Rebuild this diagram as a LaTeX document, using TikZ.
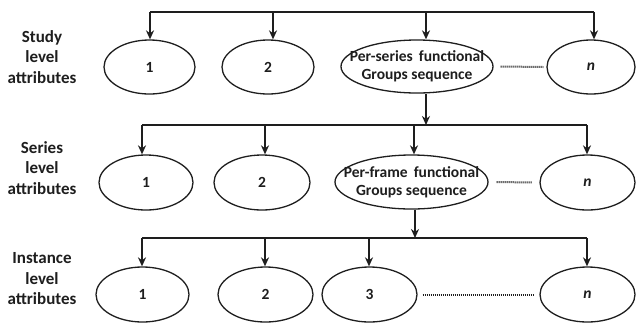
\documentclass[tikz,border=0pt]{standalone}
\usepackage{fontspec}
\setmainfont{Carlito}
\usetikzlibrary{shapes.geometric,arrows.meta}
\definecolor{ink}{HTML}{1E1E1E}
\begin{document}
\begin{tikzpicture}[x=1pt,y=-1pt,
  oval/.style={draw=ink,line width=1.3pt,ellipse,inner sep=0pt},
  ovaltxt/.style={text=ink,font=\bfseries\fontsize{15.5}{18}\selectfont,align=center,inner sep=0pt},
  side/.style={text=ink,font=\bfseries\fontsize{17}{20.5}\selectfont,align=center,inner sep=0pt},
  bar/.style={draw=ink,line width=2pt},
  drop/.style={draw=ink,line width=2pt,-{Stealth[length=9pt,width=8pt]}},
  dots/.style={draw=ink,line width=2pt,dash pattern=on 1pt off 1pt}]
\useasboundingbox[fill=white] (0,0) rectangle (637,325);

% side labels
\node[side] (l1) at (42,57) {Study\\level\\attributes};
\node[side] (l2) at (42,168) {Series\\level\\attributes};
\node[side] (l3) at (42,279) {Instance\\level\\attributes};

% row 1
\node[oval,minimum width=91,minimum height=54] (e11) at (149.5,67) {};
\node[oval,minimum width=92,minimum height=54] (e12) at (268,67) {};
\node[oval,minimum width=152,minimum height=53] (e13) at (417,66.5) {};
\node[oval,minimum width=88,minimum height=54] (e14) at (591,67) {};
\node[ovaltxt] (t11) at (e11) {1};
\node[ovaltxt] (t12) at (e12) {2};
\node[ovaltxt] (t13) at (e13) {Per-series\hspace{0.4em}functional\\Groups sequence};
\node[ovaltxt] (t14) at (e14) {\itshape n};

\coordinate (b11) at (150,12);
\coordinate (b12) at (273,12);
\coordinate (b13) at (426,12);
\coordinate (b14) at (594,12);
\draw[bar] (b11) -- (b14);
\draw[drop] (b11) -- (b11 |- e11.north);
\draw[drop] (b12) -- (b12 |- e12.north);
\draw[drop] (b13) -- (b13 |- e13.north);
\draw[drop] (b14) -- (b14 |- e14.north);
\draw[dots] ([xshift=7pt]e13.east) -- ([xshift=-3pt]e14.west);

% row 2
\node[oval,minimum width=94,minimum height=55] (e21) at (146,182.5) {};
\node[oval,minimum width=96,minimum height=55] (e22) at (262,182.5) {};
\node[oval,minimum width=153,minimum height=54] (e23) at (411.5,182) {};
\node[oval,minimum width=95,minimum height=55] (e24) at (587.5,182.5) {};
\node[ovaltxt] (t21) at (e21) {1};
\node[ovaltxt] (t22) at (e22) {2};
\node[ovaltxt] (t23) at (e23) {Per-frame\hspace{0.4em}functional\\Groups sequence};
\node[ovaltxt] (t24) at (e24) {\itshape n};

\coordinate (b21) at (142,125);
\coordinate (b22) at (265,125);
\coordinate (b23) at (414,125);
\coordinate (b24) at (587,125);
\coordinate (j1) at (426,125);
\draw[drop] (b13 |- e13.south) -- (j1);
\draw[bar] (b21) -- (b24);
\draw[drop] (b21) -- (b21 |- e21.north);
\draw[drop] (b22) -- (b22 |- e22.north);
\draw[drop] (b23) -- (b23 |- e23.north);
\draw[drop] (b24) -- (b24 |- e24.north);
\draw[dots] ([xshift=8pt]e23.east) -- ([xshift=-7pt]e24.west);

% row 3
\node[oval,minimum width=93,minimum height=55] (e31) at (142.5,294.5) {};
\node[oval,minimum width=95,minimum height=55] (e32) at (265.5,294.5) {};
\node[oval,minimum width=95,minimum height=55] (e33) at (369.5,294.5) {};
\node[oval,minimum width=95,minimum height=55] (e34) at (587.5,294.5) {};
\node[ovaltxt] (t31) at (e31) {1};
\node[ovaltxt] (t32) at (e32) {2};
\node[ovaltxt] (t33) at (e33) {3};
\node[ovaltxt] (t34) at (e34) {\itshape n};

\coordinate (b31) at (142,238);
\coordinate (b32) at (265,238);
\coordinate (b33) at (369,238);
\coordinate (b34) at (587,238);
\coordinate (j2) at (415,238);
\draw[drop] (j2 |- e23.south) -- (j2);
\draw[bar] (b31) -- (b34);
\draw[drop] (b31) -- (b31 |- e31.north);
\draw[drop] (b32) -- (b32 |- e32.north);
\draw[drop] (b33) -- (b33 |- e33.north);
\draw[drop] (b34) -- (b34 |- e34.north);
\draw[dots] ([xshift=5pt]e33.east) -- ([xshift=-5pt]e34.west);
\end{tikzpicture}
\end{document}
